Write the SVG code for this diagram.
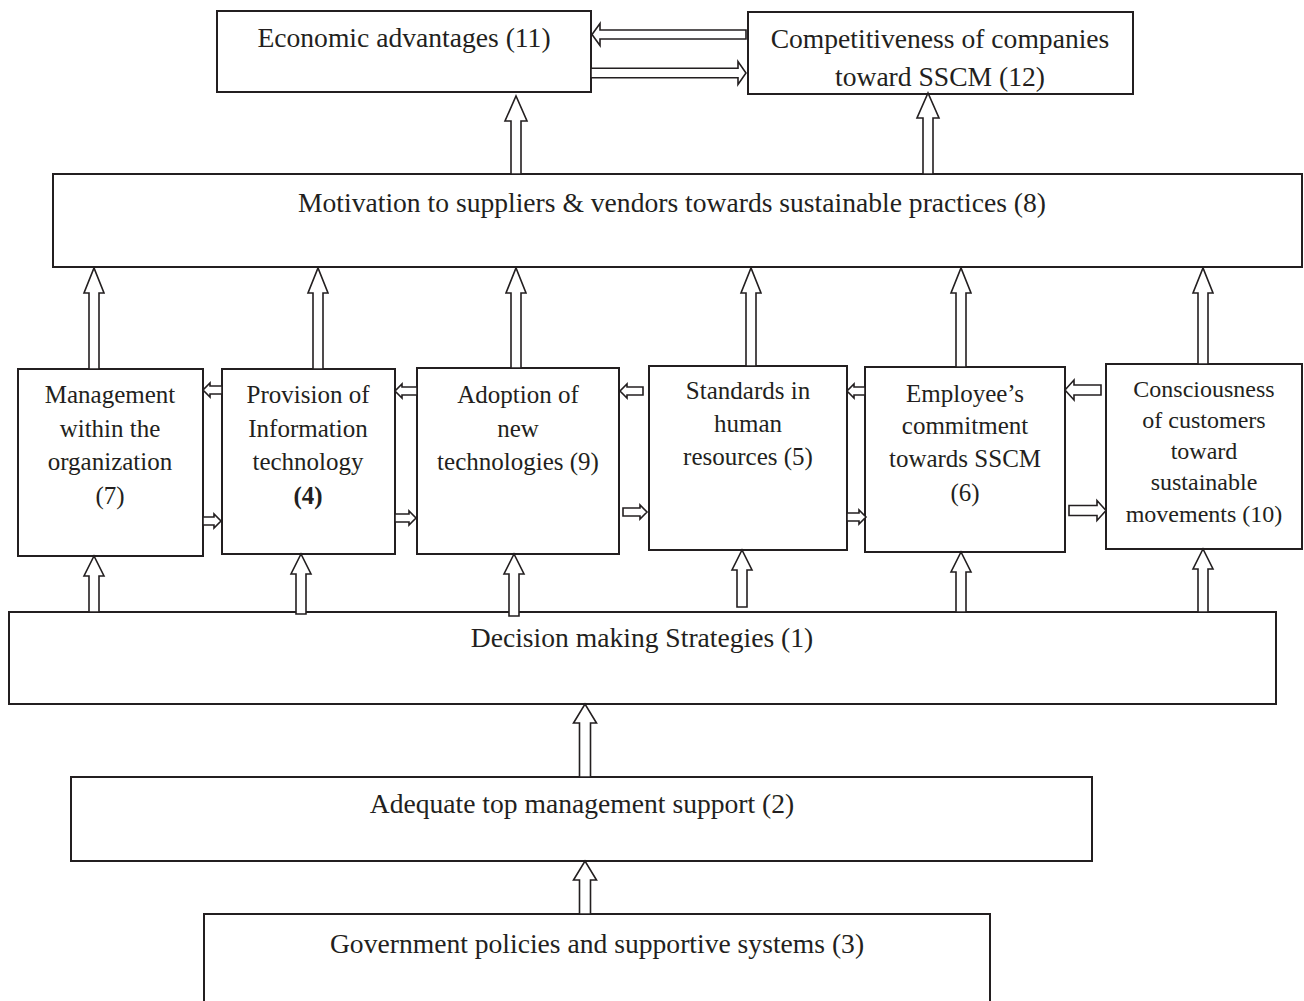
<svg xmlns="http://www.w3.org/2000/svg" width="1304" height="1001" viewBox="0 0 1304 1001">
<style>
.box{fill:#fff;stroke:#231f20;stroke-width:2}
.t{font-family:"Liberation Serif","Times New Roman",serif;fill:#231f20;text-anchor:middle}
.big{font-size:27.6px}
.mid{font-size:25px}
.sm{font-size:24px}
.arr{fill:#fff;stroke:#231f20;stroke-width:1.6;stroke-linejoin:miter}
</style>
<rect width="1304" height="1001" fill="#fff"/>
<g id="n11">
<rect class="box" x="217" y="11" width="374" height="81"/>
<text class="t big" x="404" y="47">Economic advantages (11)</text>
</g>
<g id="n12">
<rect class="box" x="748" y="12" width="385" height="82"/>
<text class="t big" x="940" y="48">Competitiveness of companies</text>
<text class="t big" x="940" y="86">toward SSCM (12)</text>
</g>
<g id="n8">
<rect class="box" x="53" y="174" width="1249" height="93"/>
<text class="t big" x="672" y="212">Motivation to suppliers &amp; vendors towards sustainable practices (8)</text>
</g>
<g id="n7">
<rect class="box" x="18" y="369" width="185" height="187"/>
<text class="t mid" x="110" y="403">Management</text>
<text class="t mid" x="110" y="437">within the</text>
<text class="t mid" x="110" y="470">organization</text>
<text class="t mid" x="110" y="504">(7)</text>
</g>
<g id="n4">
<rect class="box" x="222" y="369" width="173" height="185"/>
<text class="t mid" x="308" y="403">Provision of</text>
<text class="t mid" x="308" y="437">Information</text>
<text class="t mid" x="308" y="470">technology</text>
<text class="t mid" x="308" y="504" font-weight="bold">(4)</text>
</g>
<g id="n9">
<rect class="box" x="417" y="368" width="202" height="186"/>
<text class="t mid" x="518" y="403">Adoption of</text>
<text class="t mid" x="518" y="437">new</text>
<text class="t mid" x="518" y="470">technologies (9)</text>
</g>
<g id="n5">
<rect class="box" x="649" y="366" width="198" height="184"/>
<text class="t mid" x="748" y="399">Standards in</text>
<text class="t mid" x="748" y="432">human</text>
<text class="t mid" x="748" y="465">resources (5)</text>
</g>
<g id="n6">
<rect class="box" x="865" y="367" width="200" height="185"/>
<text class="t mid" x="965" y="402">Employee’s</text>
<text class="t mid" x="965" y="434">commitment</text>
<text class="t mid" x="965" y="467">towards SSCM</text>
<text class="t mid" x="965" y="501">(6)</text>
</g>
<g id="n10">
<rect class="box" x="1106" y="364" width="196" height="185"/>
<text class="t sm" x="1204" y="397">Consciousness</text>
<text class="t sm" x="1204" y="428">of customers</text>
<text class="t sm" x="1204" y="459">toward</text>
<text class="t sm" x="1204" y="490">sustainable</text>
<text class="t sm" x="1204" y="522">movements (10)</text>
</g>
<g id="n1">
<rect class="box" x="9" y="612" width="1267" height="92"/>
<text class="t big" x="642" y="647">Decision making Strategies (1)</text>
</g>
<g id="n2">
<rect class="box" x="71" y="777" width="1021" height="84"/>
<text class="t big" x="582" y="813">Adequate top management support (2)</text>
</g>
<g id="n3">
<rect class="box" x="204" y="914" width="786" height="100"/>
<text class="t big" x="597" y="953">Government policies and supportive systems (3)</text>
</g>
<g id="connectors">
<path class="arr" d="M746 30 H600 V23.5 L592 34.5 L600 45.5 V39 H746 Z"/>
<path class="arr" d="M591 68.3 H738 V61.5 L746 73 L738 84.5 V77.7 H591 Z"/>
<path class="arr" d="M511 174 V121 H505 L516 96 L527 121 H521 V174 Z"/>
<path class="arr" d="M923 174 V118 H917 L928 93 L939 118 H933 V174 Z"/>
<path class="arr" d="M89 369 V293 H84 L94 268 L104 293 H99 V369 Z"/>
<path class="arr" d="M313 369 V293 H308 L318 268 L328 293 H323 V369 Z"/>
<path class="arr" d="M511 368 V293 H506 L516 268 L526 293 H521 V368 Z"/>
<path class="arr" d="M746 366 V293 H741 L751 268 L761 293 H756 V366 Z"/>
<path class="arr" d="M956 367 V293 H951 L961 268 L971 293 H966 V367 Z"/>
<path class="arr" d="M1198 364 V293 H1193 L1203 268 L1213 293 H1208 V364 Z"/>
<path class="arr" d="M89 612 V576 H84 L94 556 L104 576 H99 V612 Z"/>
<path class="arr" d="M296 614 V574 H291 L301 554 L311 574 H306 V614 Z"/>
<path class="arr" d="M509 616 V574 H504 L514 554 L524 574 H519 V616 Z"/>
<path class="arr" d="M737 607 V570 H732 L742 550 L752 570 H747 V607 Z"/>
<path class="arr" d="M956 612 V572 H951 L961 552 L971 572 H966 V612 Z"/>
<path class="arr" d="M1198 612 V569 H1193 L1203 549 L1213 569 H1208 V612 Z"/>
<path class="arr" d="M579.5 777 V723 H573.5 L585 704 L596.5 723 H590.5 V777 Z"/>
<path class="arr" d="M579.5 914 V880 H573.5 L585 861 L596.5 880 H590.5 V914 Z"/>
<path class="arr" d="M222 386 H210 V383 L203 390 L210 397 V394 H222 Z"/>
<path class="arr" d="M203 517 H214 V514 L221 521 L214 528 V525 H203 Z"/>
<path class="arr" d="M417 387 H402 V384 L395 391 L402 398 V395 H417 Z"/>
<path class="arr" d="M395 514 H409 V511 L416 518 L409 525 V522 H395 Z"/>
<path class="arr" d="M643 387 H627 V384 L620 391 L627 398 V395 H643 Z"/>
<path class="arr" d="M623 508 H640 V505 L647 512 L640 519 V516 H623 Z"/>
<path class="arr" d="M865 387 H854 V384 L847 391 L854 398 V395 H865 Z"/>
<path class="arr" d="M847 513 H859 V510 L866 517 L859 524 V521 H847 Z"/>
<path class="arr" d="M1101 385 H1074 V380 L1065 390 L1074 400 V395 H1101 Z"/>
<path class="arr" d="M1069 505.5 H1097 V500.5 L1106 510.5 L1097 520.5 V515.5 H1069 Z"/>
</g>
</svg>
